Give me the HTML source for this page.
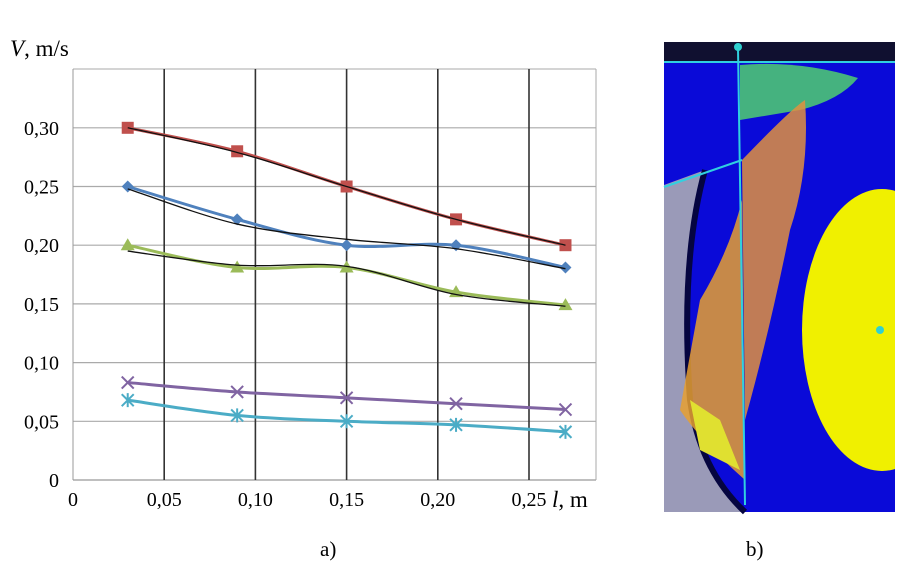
<!DOCTYPE html>
<html><head><meta charset="utf-8"><style>
body{margin:0;background:#fff;width:913px;height:570px;overflow:hidden;font-family:"Liberation Serif",serif}
</style></head><body>
<svg width="913" height="570" xmlns="http://www.w3.org/2000/svg">
<g id="chart"></g>
<text x="10" y="56" font-size="23" font-style="italic">V<tspan font-style="normal">, m/s</tspan></text>
<text x="552" y="507" font-size="23"><tspan font-style="italic">l</tspan>, m</text>
<text x="320" y="556" font-size="21">a)</text>
<text x="746" y="556" font-size="21">b)</text>
<g>
<rect x="664" y="42" width="231" height="470" fill="#0a0ad8"/>
<rect x="664" y="42" width="231" height="20" fill="#101030"/>
<path d="M664 185 L705 170 Q680 260 690 400 Q700 470 745 512 L664 512 Z" fill="#9a9ab8"/>
<path d="M705 170 Q680 260 690 400 Q700 470 745 512" fill="none" stroke="#050540" stroke-width="6"/>
<ellipse cx="882" cy="330" rx="80" ry="141" fill="#f0f000"/>
<rect x="895" y="42" width="18" height="470" fill="#fff"/>
<path d="M740 65 Q800 60 858 78 Q840 100 800 110 L740 120 Z" fill="#50d070" opacity="0.85"/>
<path d="M742 160 Q790 110 805 100 Q810 170 790 230 Q770 330 745 420 Z" fill="#e09040" opacity="0.85"/>
<path d="M700 300 Q730 250 742 200 L745 480 Q700 440 680 410 Z" fill="#e8a030" opacity="0.85"/>
<path d="M690 400 L720 420 L740 470 L700 450 Z" fill="#e0e030"/>
<line x1="738" y1="48" x2="745" y2="505" stroke="#30d0e0" stroke-width="2"/>
<line x1="664" y1="62" x2="895" y2="62" stroke="#30d0e0" stroke-width="2"/>
<line x1="664" y1="187" x2="742" y2="160" stroke="#30d0e0" stroke-width="2"/>
<circle cx="738" cy="47" r="4" fill="#30d0d0"/>
<circle cx="880" cy="330" r="4" fill="#30d0d0"/>
</g>
</svg>
<script>
const xs=[0.03,0.09,0.15,0.21,0.27];
const red=[0.30,0.28,0.25,0.222,0.20];
const blue=[0.25,0.222,0.20,0.20,0.181];
const green=[0.20,0.181,0.181,0.16,0.149];
const purple=[0.083,0.075,0.07,0.065,0.06];
const cyan=[0.068,0.055,0.05,0.047,0.041];
const redTrend=[0.30,0.279,0.25,0.222,0.20];
const blueTrend=[0.248,0.218,0.205,0.197,0.18];
const greenTrend=[0.195,0.183,0.182,0.158,0.148];
const yTicks=[0,0.05,0.10,0.15,0.20,0.25,0.30];
const yTickLabels=["0","0,05","0,10","0,15","0,20","0,25","0,30"];
const xTicks=[0,0.05,0.10,0.15,0.20,0.25];
const xTickLabels=["0","0,05","0,10","0,15","0,20","0,25"];
const NS="http://www.w3.org/2000/svg";
const X=v=>73+v*(91.2/0.05);
const Y=v=>480-v*(58.7/0.05);
const g=document.getElementById('chart');
function el(t,a){const e=document.createElementNS(NS,t);for(const k in a)e.setAttribute(k,a[k]);g.appendChild(e);return e;}
yTicks.forEach((t,i)=>{
 const l=el('line',{x1:73,x2:596,y1:Y(t),y2:Y(t),stroke:i==0?'#999':'#aaa','stroke-width':1.2});
 
 
 const tx=el('text',{x:59,y:Y(t)+7,'font-size':20,'text-anchor':'end'});tx.textContent=yTickLabels[i];
 
 
});
const plotTopLine=el('line',{x1:73,x2:596,y1:69,y2:69,stroke:'#aaa'});


xTicks.forEach((t,i)=>{
 const l=el('line',{x1:X(t),x2:X(t),y1:69,y2:480,stroke:i==0?'#999':'#333','stroke-width':i==0?1:1.6});
 
 
 const tx=el('text',{x:X(t),y:506,'font-size':20,'text-anchor':'middle'});tx.textContent=xTickLabels[i];
 
 
});
const plotRightLine=el('line',{x1:596,x2:596,y1:69,y2:480,stroke:'#aaa'});


function smooth(vals){
 const p=vals.map((v,i)=>[X(xs[i]),Y(v)]);let d=`M${p[0][0]},${p[0][1]}`;
 for(let i=0;i<p.length-1;i++){const p0=p[Math.max(0,i-1)],p1=p[i],p2=p[i+1],p3=p[Math.min(p.length-1,i+2)];
  d+=` C${p1[0]+(p2[0]-p0[0])/6},${p1[1]+(p2[1]-p0[1])/6} ${p2[0]-(p3[0]-p1[0])/6},${p2[1]-(p3[1]-p1[1])/6} ${p2[0]},${p2[1]}`;}
 return d;}
function series(vals,color,marker,name){
 const p=el('path',{d:smooth(vals),fill:'none',stroke:color,'stroke-width':3});
 
 
 vals.forEach((v,i)=>{const x=X(xs[i]),y=Y(v);let m;
  if(marker=='sq')m=el('rect',{x:x-6,y:y-6,width:12,height:12,fill:color});
  else if(marker=='dia')m=el('path',{d:`M${x},${y-6}L${x+6},${y}L${x},${y+6}L${x-6},${y}Z`,fill:color});
  else if(marker=='tri')m=el('path',{d:`M${x},${y-7}L${x+7},${y+5}L${x-7},${y+5}Z`,fill:color});
  else if(marker=='x')m=el('path',{d:`M${x-6},${y-6}L${x+6},${y+6}M${x+6},${y-6}L${x-6},${y+6}`,stroke:color,'stroke-width':2});
  else m=el('path',{d:`M${x-6},${y-6}L${x+6},${y+6}M${x+6},${y-6}L${x-6},${y+6}M${x},${y-7}L${x},${y+7}`,stroke:color,'stroke-width':2});
  
  });
}
function trend(vals,name){const p=el('path',{d:smooth(vals),fill:'none',stroke:'#111','stroke-width':1.3});
 
 }
series(red,'#c0504d','sq','red-series');
series(blue,'#4f81bd','dia','blue-series');
series(green,'#9bbb59','tri','green-series');
series(purple,'#8064a2','x','purple-series');
series(cyan,'#4bacc6','star','cyan-series');
trend(redTrend,'red-trendline');
trend(blueTrend,'blue-trendline');
trend(greenTrend,'green-trendline');
</script>
</body></html>
